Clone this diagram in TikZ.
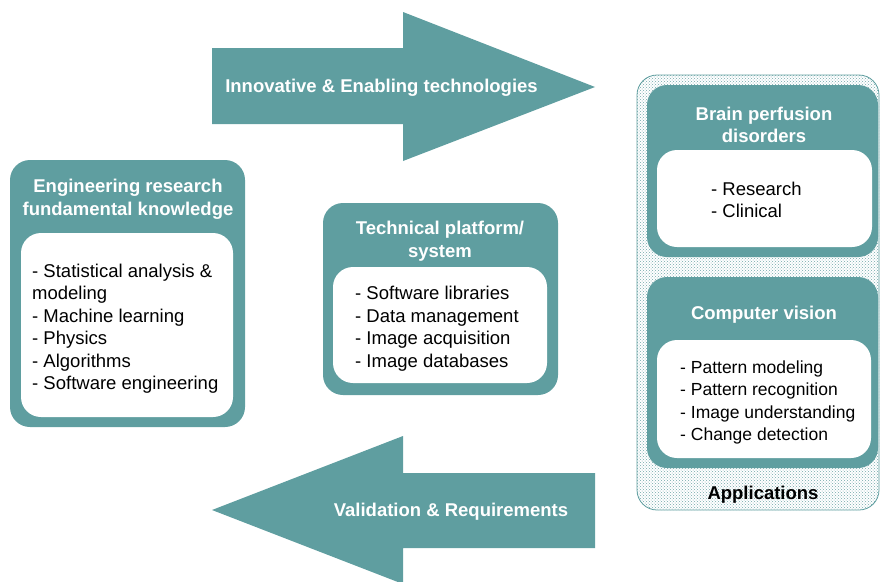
\documentclass[tikz,border=0pt]{standalone}
\usepackage{fontspec}
\setmainfont{Liberation Sans}
\usetikzlibrary{patterns}
\definecolor{teal1}{RGB}{95,158,160}
\definecolor{dotc}{RGB}{115,168,170}
\tikzset{
  x=1pt,y=-1pt,
  ttl/.style={font=\fontsize{18.5}{22.5}\selectfont\bfseries,text=white,align=center,inner sep=0pt},
  items/.style={font=\fontsize{18.5}{22.5}\selectfont,text=black,align=left,inner sep=0pt,anchor=west},
  smallitems/.style={items,font=\fontsize{17.5}{22.4}\selectfont},
  bigarrow/.style={fill=teal1,draw=none}
}
\begin{document}
\begin{tikzpicture}
\useasboundingbox (0,0) rectangle (880,581);
% arrows
\fill[bigarrow] (212,48) -- (403,48) -- (403,12) -- (595,87) -- (403,161) -- (403,124) -- (212,124) -- cycle;
\fill[bigarrow] (595,473) -- (403,473) -- (403,436) -- (212,510) -- (403,584) -- (403,548) -- (595,548) -- cycle;
\node[ttl] (ta) at (381.5,88) {Innovative \& Enabling technologies};
\node[ttl] (tb) at (451,512) {Validation \& Requirements};
% left box
\fill[teal1,rounded corners=20pt] (10,160) rectangle (245,427);
\fill[white,rounded corners=20pt] (21,233) rectangle (233,417);
\node[ttl] (lt) at (128,199.5) {Engineering research\\fundamental knowledge};
\node[items] (li) at (32,328.5) {- Statistical analysis \&\\modeling\\- Machine learning\\- Physics\\- Algorithms\\- Software engineering};
% middle box
\fill[teal1,rounded corners=20pt] (323,203) rectangle (558,395);
\fill[white,rounded corners=20pt] (333,267) rectangle (547,383);
\node[ttl] (mt) at (440,241) {Technical platform/\\system};
\node[items] (mi) at (355,328.5) {- Software libraries\\- Data management\\- Image acquisition\\- Image databases};
% applications
\fill[white,rounded corners=20pt] (637,75) rectangle (879,510);
\fill[pattern=crosshatch dots,pattern color=dotc,rounded corners=20pt] (637,75) rectangle (879,510);
\draw[teal1,line width=0.8pt,rounded corners=20pt] (637,75) rectangle (879,510);
\fill[teal1,rounded corners=20pt] (647,85) rectangle (878,257);
\fill[white,rounded corners=20pt] (657,150) rectangle (872,247);
\node[ttl] (bt) at (764,125) {Brain perfusion\\disorders};
\node[items] (bi) at (711,200) {- Research\\- Clinical};
\fill[teal1,rounded corners=20pt] (647,277) rectangle (878,468);
\fill[white,rounded corners=20pt] (657,340) rectangle (871,458);
\node[ttl] (ct) at (764,314.5) {Computer vision};
\node[smallitems] (ci) at (680,402.5) {- Pattern modeling\\- Pattern recognition\\- Image understanding\\- Change detection};
\node[ttl,text=black] (ap) at (763,494.5) {Applications};
\end{tikzpicture}
\end{document}
